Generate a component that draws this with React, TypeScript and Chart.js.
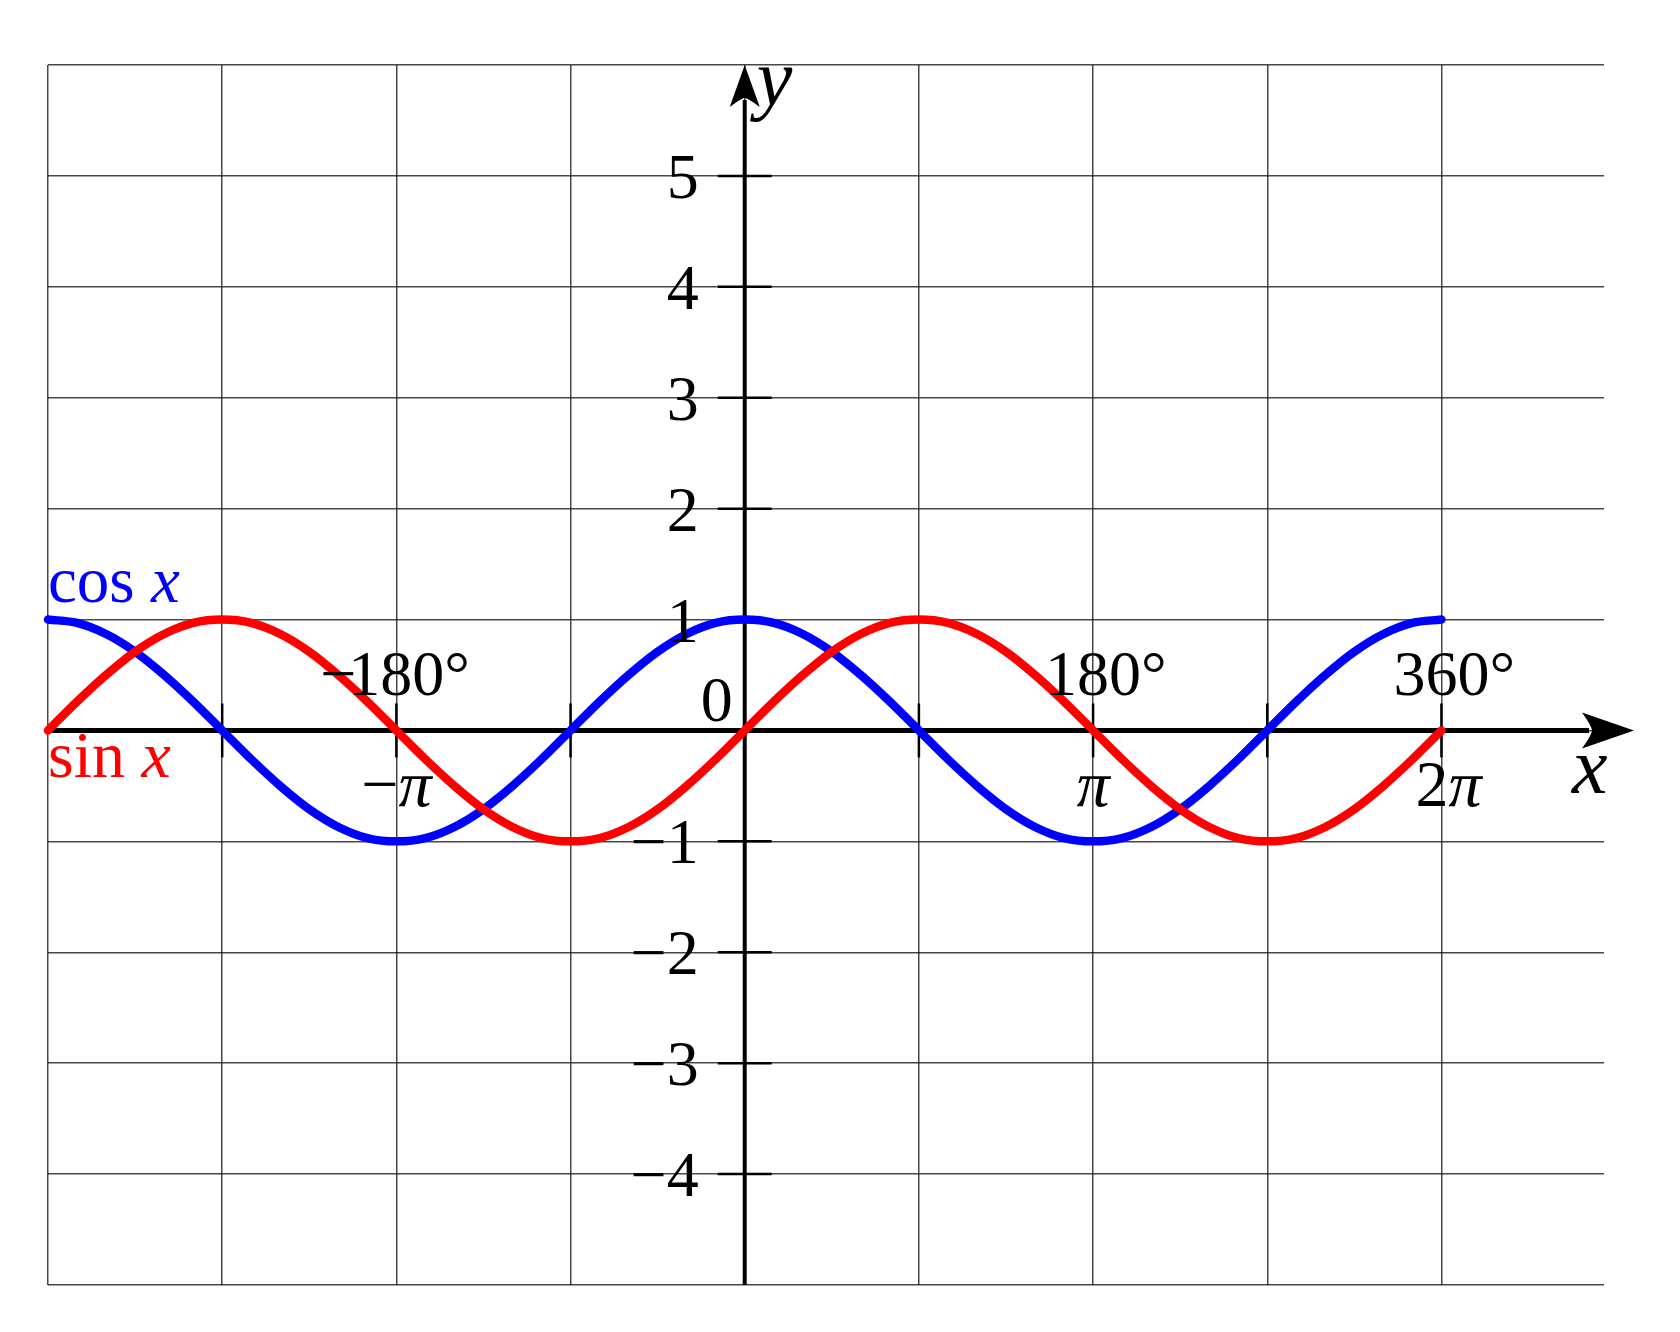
import React, { useEffect, useRef } from "react";
import { Chart, registerables } from "chart.js";

Chart.register(...registerables);

// x positions in degrees
const xValues = [
  -360, -345, -330, -315, -300, -285, -270, -255, -240, -225, -210, -195,
  -180, -165, -150, -135, -120, -105, -90, -75, -60, -45, -30, -15,
  0, 15, 30, 45, 60, 75, 90, 105, 120, 135, 150, 165,
  180, 195, 210, 225, 240, 255, 270, 285, 300, 315, 330, 345, 360,
];
const sinValues = [
  0, 0.26, 0.5, 0.71, 0.87, 0.97, 1, 0.97, 0.87, 0.71, 0.5, 0.26,
  0, -0.26, -0.5, -0.71, -0.87, -0.97, -1, -0.97, -0.87, -0.71, -0.5, -0.26,
  0, 0.26, 0.5, 0.71, 0.87, 0.97, 1, 0.97, 0.87, 0.71, 0.5, 0.26,
  0, -0.26, -0.5, -0.71, -0.87, -0.97, -1, -0.97, -0.87, -0.71, -0.5, -0.26, 0,
];
const cosValues = [
  1, 0.97, 0.87, 0.71, 0.5, 0.26, 0, -0.26, -0.5, -0.71, -0.87, -0.97,
  -1, -0.97, -0.87, -0.71, -0.5, -0.26, 0, 0.26, 0.5, 0.71, 0.87, 0.97,
  1, 0.97, 0.87, 0.71, 0.5, 0.26, 0, -0.26, -0.5, -0.71, -0.87, -0.97,
  -1, -0.97, -0.87, -0.71, -0.5, -0.26, 0, 0.26, 0.5, 0.71, 0.87, 0.97, 1,
];

const xGridValues = [-360, -270, -180, -90, 0, 90, 180, 270, 360];
const xTickMarks = [-270, -180, -90, 90, 180, 270, 360];
const degTickValues = [-180, 180, 360];
const degTickLabels = ["−180°", "180°", "360°"];
const piTickValues = [-180, 180, 360];
const piTickLabels = ["−π", "π", "2π"];
const yTickValues = [5, 4, 3, 2, 1, -1, -2, -3, -4];
const yTickLabels = ["5", "4", "3", "2", "1", "−1", "−2", "−3", "−4"];
const X_MIN = -360;
const X_MAX = 444;
const Y_MIN = -5;
const Y_MAX = 6;

const FONT = '"Liberation Serif", "Times New Roman", serif';

const axesPlugin = {
  id: "mathAxes",
  beforeDatasetsDraw(chart: any) {
    const { ctx, chartArea } = chart;
    const xs = chart.scales.x;
    const ys = chart.scales.y;
    const x0 = xs.getPixelForValue(0);
    const y0 = ys.getPixelForValue(0);
    ctx.save();
    ctx.strokeStyle = "#000";
    ctx.fillStyle = "#000";
    ctx.lineCap = "butt";

    // tick marks
    ctx.lineWidth = 2.5;
    for (const v of xTickMarks) {
      const px = xs.getPixelForValue(v);
      ctx.beginPath();
      ctx.moveTo(px, y0 - 27);
      ctx.lineTo(px, y0 + 27);
      ctx.stroke();
    }
    for (const v of yTickValues) {
      const py = ys.getPixelForValue(v);
      ctx.beginPath();
      ctx.moveTo(x0 - 27, py);
      ctx.lineTo(x0 + 27, py);
      ctx.stroke();
    }

    // x axis
    const tipX = chartArea.right + 30;
    ctx.lineWidth = 5;
    ctx.beginPath();
    ctx.moveTo(chartArea.left, y0);
    ctx.lineTo(tipX - 45, y0);
    ctx.stroke();
    ctx.beginPath();
    ctx.moveTo(tipX, y0);
    ctx.lineTo(tipX - 52, y0 - 18);
    ctx.quadraticCurveTo(tipX - 42, y0 - 4, tipX - 42, y0);
    ctx.quadraticCurveTo(tipX - 42, y0 + 4, tipX - 52, y0 + 18);
    ctx.closePath();
    ctx.fill();

    // y axis
    const tipY = chartArea.top;
    ctx.lineWidth = 4;
    ctx.beginPath();
    ctx.moveTo(x0, chartArea.bottom);
    ctx.lineTo(x0, tipY + 35);
    ctx.stroke();
    ctx.beginPath();
    ctx.moveTo(x0, tipY);
    ctx.lineTo(x0 - 15, tipY + 42);
    ctx.quadraticCurveTo(x0 - 3, tipY + 33, x0, tipY + 33);
    ctx.quadraticCurveTo(x0 + 3, tipY + 33, x0 + 15, tipY + 42);
    ctx.closePath();
    ctx.fill();
    ctx.restore();
  },
  afterDatasetsDraw(chart: any) {
    const { ctx, chartArea } = chart;
    const xs = chart.scales.x;
    const ys = chart.scales.y;
    const x0 = xs.getPixelForValue(0);
    const y0 = ys.getPixelForValue(0);
    ctx.save();
    ctx.fillStyle = "#000";
    ctx.textBaseline = "alphabetic";

    // y labels
    ctx.font = `64px ${FONT}`;
    ctx.textAlign = "right";
    yTickValues.forEach((v, i) => {
      const py = ys.getPixelForValue(v);
      ctx.fillText(yTickLabels[i], x0 - 46, py + 22);
    });
    ctx.fillText("0", x0 - 12, y0 - 9);

    // degree labels: digits centred on tick
    degTickValues.forEach((v, i) => {
      const label = degTickLabels[i];
      const px = xs.getPixelForValue(v);
      const neg = label.startsWith("−");
      const digits = label.replace("−", "").replace("°", "");
      const w = ctx.measureText(digits).width;
      const left = px - w / 2;
      ctx.textAlign = "left";
      ctx.fillText(digits + "°", left, y0 - 35);
      if (neg) {
        ctx.textAlign = "right";
        ctx.fillText("−", left + 8, y0 - 35);
      }
    });

    // pi labels
    piTickValues.forEach((v, i) => {
      const label = piTickLabels[i];
      const px = xs.getPixelForValue(v) + (label.startsWith("2") ? 7 : 0);
      const pre = label.replace("π", "");
      ctx.font = `66px ${FONT}`;
      const wPre = ctx.measureText(pre).width;
      ctx.font = `italic 66px ${FONT}`;
      const wPi = ctx.measureText("π").width;
      const left = px - (wPre + wPi) / 2;
      ctx.textAlign = "left";
      ctx.font = `66px ${FONT}`;
      ctx.fillText(pre, left, y0 + 76);
      ctx.font = `italic 66px ${FONT}`;
      ctx.fillText("π", left + wPre, y0 + 76);
    });

    // axis names
    ctx.font = `italic 80px ${FONT}`;
    ctx.textAlign = "left";
    ctx.fillText("x", chartArea.right - 32, y0 + 63);
    ctx.fillText("y", x0 + 12, chartArea.top + 40);

    // function labels
    const drawFn = (name: string, color: string, left: number, base: number, size: number) => {
      ctx.fillStyle = color;
      ctx.font = `${size}px ${FONT}`;
      ctx.fillText(name + " ", left, base);
      const w = ctx.measureText(name + " ").width;
      ctx.font = `italic ${size}px ${FONT}`;
      ctx.fillText("x", left + w, base);
    };
    drawFn("cos", "#0000ff", chartArea.left, ys.getPixelForValue(1) - 18, 65);
    drawFn("sin", "#ff0000", chartArea.left, y0 + 47, 66);
    ctx.restore();
  },
};

export default function App() {
  const ref = useRef<HTMLCanvasElement | null>(null);
  useEffect(() => {
    if (!ref.current) return;
    const chart = new Chart(ref.current, {
      type: "line",
      data: {
        datasets: [
          {
            label: "sin x",
            data: xValues.map((x, i) => ({ x, y: sinValues[i] })),
            borderColor: "#ff0000",
            borderWidth: 8.5,
            borderCapStyle: "round",
            borderJoinStyle: "round",
            pointRadius: 0,
            tension: 0.33,
            fill: false,
          },
          {
            label: "cos x",
            data: xValues.map((x, i) => ({ x, y: cosValues[i] })),
            borderColor: "#0000ff",
            borderWidth: 8.5,
            borderCapStyle: "round",
            borderJoinStyle: "round",
            pointRadius: 0,
            tension: 0.33,
            fill: false,
          },
        ],
      },
      options: {
        animation: false,
        responsive: true,
        maintainAspectRatio: false,
        clip: false as any,
        layout: { padding: { left: 48, top: 65, right: 76, bottom: 47 } },
        plugins: { legend: { display: false }, tooltip: { enabled: false } },
        events: [],
        scales: {
          x: {
            type: "linear",
            min: X_MIN,
            max: X_MAX,
            afterBuildTicks: (s: any) => {
              s.ticks = xGridValues.map((v) => ({ value: v }));
            },
            afterFit: (s: any) => {
              s.height = 0;
            },
            ticks: { display: false },
            border: { display: false },
            grid: { drawTicks: false, color: "rgba(0,0,0,0.72)", lineWidth: 1.5 },
          },
          y: {
            type: "linear",
            min: Y_MIN,
            max: Y_MAX,
            ticks: { display: false, stepSize: 1 },
            afterFit: (s: any) => {
              s.width = 0;
            },
            border: { display: false },
            grid: { drawTicks: false, color: "rgba(0,0,0,0.72)", lineWidth: 1.5 },
          },
        },
      },
      plugins: [axesPlugin],
    } as any);
    return () => chart.destroy();
  }, []);
  return (
    <div
      style={{
        position: "absolute",
        left: 0,
        top: 0,
        width: 1680,
        height: 1332,
        background: "#fff",
      }}
    >
      <canvas ref={ref} />
    </div>
  );
}
